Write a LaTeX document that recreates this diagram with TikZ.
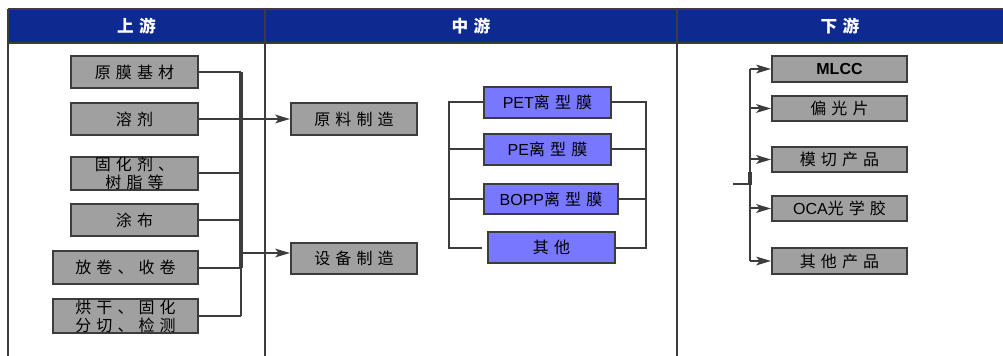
\documentclass[tikz,border=0pt]{standalone}
\usepackage{fontspec}
\setmainfont{Liberation Sans}
\newfontfamily\cjk[LetterSpace=32]{Noto Sans CJK SC}
\usetikzlibrary{arrows.meta}
\definecolor{hdr}{HTML}{0C2A8F}
\definecolor{ln}{HTML}{3C3C3C}
\definecolor{gfill}{HTML}{A0A0A0}
\definecolor{bfill}{HTML}{7777FF}
\begin{document}
\begin{tikzpicture}[x=0.75pt,y=-0.75pt,
  frame/.style={draw=ln,line width=1.5pt},
  conn/.style={draw=ln,line width=1.5pt},
  bus/.style={draw=ln,line width=3pt},
  arr/.style={draw=ln,line width=1.5pt,-{Stealth[length=11pt,width=6.5pt,inset=2.5pt]}},
  bx/.style 2 args={minimum width=#1*0.75pt,minimum height=#2*0.75pt,
    draw=ln,line width=1.5pt,inner sep=0pt,align=center,
    font=\fontsize{12}{13.5}\selectfont},
  gbox/.style 2 args={bx={#1}{#2},fill=gfill},
  bbox/.style 2 args={bx={#1}{#2},fill=bfill},
  hd/.style={text=white,font=\fontsize{12.5}{14}\selectfont\bfseries}]
\useasboundingbox (0,0) rectangle (1003,356);

% header band and column frame
\fill[hdr] (8,9) rectangle (1003,43);
\draw[frame] (8,9) -- (1003,9);
\draw[frame] (8,43) -- (1003,43);
\draw[frame] (8,9) -- (8,356);
\draw[frame] (265,9) -- (265,356);
\draw[frame] (677,9) -- (677,356);

\node[hd] (h1) at (136.5,26) {\cjk 上游};
\node[hd] (h2) at (471,26) {\cjk 中游};
\node[hd] (h3) at (840,26) {\cjk 下游};

% upstream inputs
\node[gbox={127}{32}] (a1) at (134.5,72) {\cjk 原膜基材};
\node[gbox={127}{32}] (a2) at (134.5,119) {\cjk 溶剂};
\node[gbox={127}{31}] (a3) at (134.5,173.5) {\cjk 固化剂、\\\cjk 树脂等};
\node[gbox={127}{32}] (a4) at (134.5,220) {\cjk 涂布};
\node[gbox={145}{33}] (a5) at (125.5,267.5) {\cjk 放卷、收卷};
\node[gbox={145}{34}] (a6) at (125.5,316) {\cjk 烘干、固化\\\cjk 分切、检测};

% midstream
\node[gbox={126}{32}] (m1) at (354,119) {\cjk 原料制造};
\node[gbox={126}{31}] (m2) at (354,258.5) {\cjk 设备制造};

\node[bbox={127}{31}] (p1) at (547.5,102.5) {PET{\cjk 离型膜}};
\node[bbox={127}{31}] (p2) at (547.5,149.5) {PE{\cjk 离型膜}};
\node[bbox={134}{30}] (p3) at (551,199) {BOPP{\cjk 离型膜}};
\node[bbox={127}{31}] (p4) at (551.5,247.5) {\cjk 其他};

% downstream applications
\node[gbox={135}{26}] (d1) at (839.5,69) {\bfseries MLCC};
\node[gbox={135}{25}] (d2) at (839.5,108.5) {\cjk 偏光片};
\node[gbox={135}{25}] (d3) at (839.5,159.5) {\cjk 模切产品};
\node[gbox={135}{25}] (d4) at (839.5,208.5) {OCA{\cjk 光学胶}};
\node[gbox={135}{26}] (d5) at (839.5,261) {\cjk 其他产品};

% upstream collector bus
\coordinate (lb) at (241,72);
\coordinate (e2) at (241,253);
\foreach \n in {a1,a2,a3,a4,a5,a6}
  \draw[conn] (\n.east) -- (\n.east -| lb);
\draw[bus] (a1.east -| lb) -- (a5.east -| lb);
\draw[conn] (a5.east -| lb) -- (a6.east -| lb);
\draw[arr] (m1.west -| lb) -- (m1.west);
\draw[arr] (e2) -- (e2 -| m2.west);

% release film brackets
\coordinate (ml) at (449,0);
\coordinate (mr) at (646,0);
\draw[conn] (p1.west) -- (p1.west -| ml) -- (p4.west -| ml) -- ([xshift=-3.75pt]p4.west);
\draw[conn] (p2.west) -- (p2.west -| ml);
\draw[conn] (p3.west) -- (p3.west -| ml);
\draw[conn] (p1.east) -- (p1.east -| mr) -- (p4.east -| mr) -- (p4.east);
\draw[conn] (p2.east) -- (p2.east -| mr);
\draw[conn] (p3.east) -- (p3.east -| mr);

% downstream distribution bus
\coordinate (rb) at (750,69);
\coordinate (rin) at (733,184);
\draw[conn] (d1.west -| rb) -- (d5.west -| rb);
\draw[line width=2.4pt,draw=ln] (750,172) -- (750,185);
\draw[conn] (rin) -- (rin -| rb);
\foreach \n in {d1,d2,d3,d4,d5}
  \draw[arr] (\n.west -| rb) -- (\n.west);
\end{tikzpicture}
\end{document}
